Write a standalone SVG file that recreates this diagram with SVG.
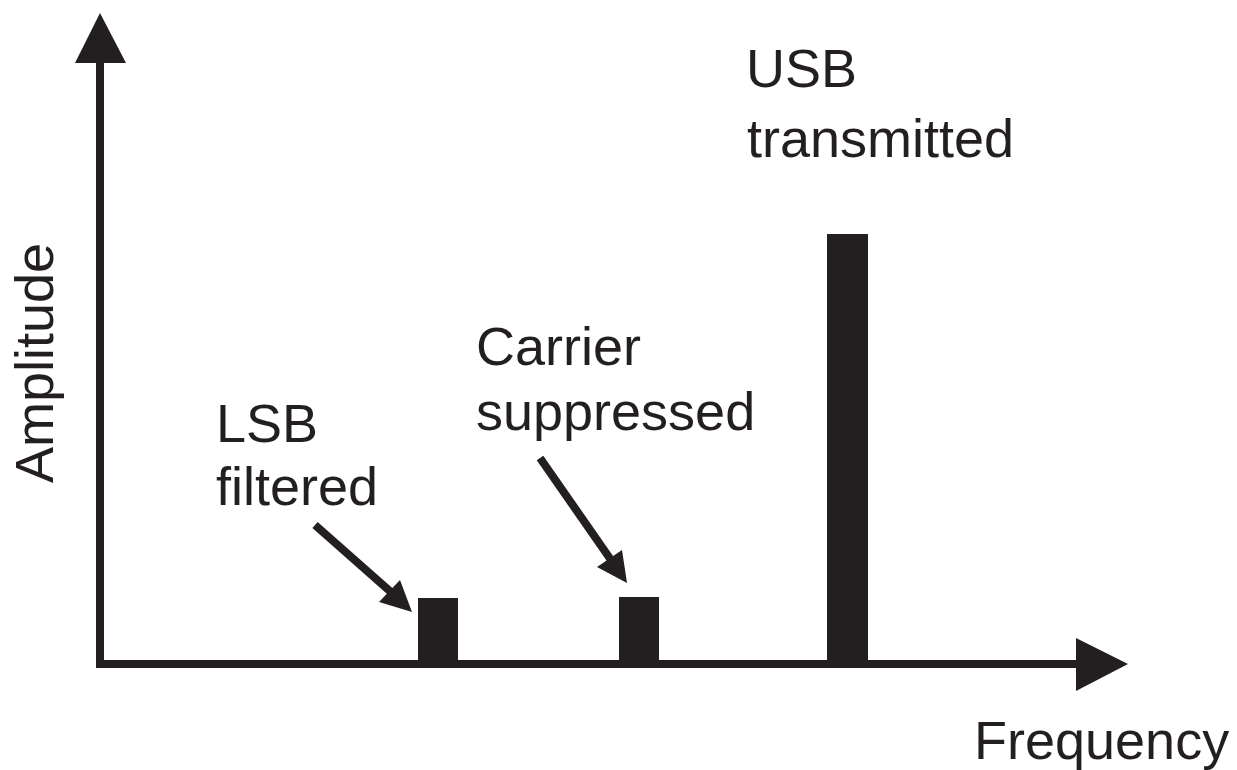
<svg xmlns="http://www.w3.org/2000/svg" width="1237" height="770" viewBox="0 0 1237 770">
<style>
.t{font-family:"Liberation Sans",Arial,sans-serif;font-size:54px;fill:#231f20}
.bar{fill:#231f20}
.ln{stroke:#231f20;stroke-width:8;fill:none}
.hd{fill:#231f20}
</style>
<rect width="1237" height="770" fill="#ffffff"/>
<g id="axes">
<rect class="bar" x="96" y="58" width="8" height="610"/>
<rect class="bar" x="96" y="660" width="984" height="8"/>
<polygon class="hd" points="100,13 75,63 126,63"/>
<polygon class="hd" points="1128,664 1076,638 1076,691"/>
<text class="t" x="974" y="759">Frequency</text>
<text class="t" transform="translate(53,483) rotate(-90)">Amplitude</text>
</g>
<g id="lsb">
<rect class="bar" x="418" y="598" width="40" height="66"/>
<text class="t" x="216" y="442">LSB</text>
<text class="t" x="216" y="505">filtered</text>
</g>
<g id="carrier">
<rect class="bar" x="619" y="597" width="40" height="67"/>
<text class="t" x="476" y="365">Carrier</text>
<text class="t" x="476" y="430">suppressed</text>
</g>
<g id="usb">
<rect class="bar" x="827" y="234" width="41" height="430"/>
<text class="t" x="746" y="87">USB</text>
<text class="t" x="747" y="157">transmitted</text>
</g>
<g id="connectors">
<line class="ln" x1="315" y1="525" x2="392" y2="593"/>
<polygon class="hd" points="412,612 400,580 379,602"/>
<line class="ln" x1="540" y1="458" x2="611" y2="560"/>
<polygon class="hd" points="627,583 622,550 597,567"/>
</g>
</svg>
